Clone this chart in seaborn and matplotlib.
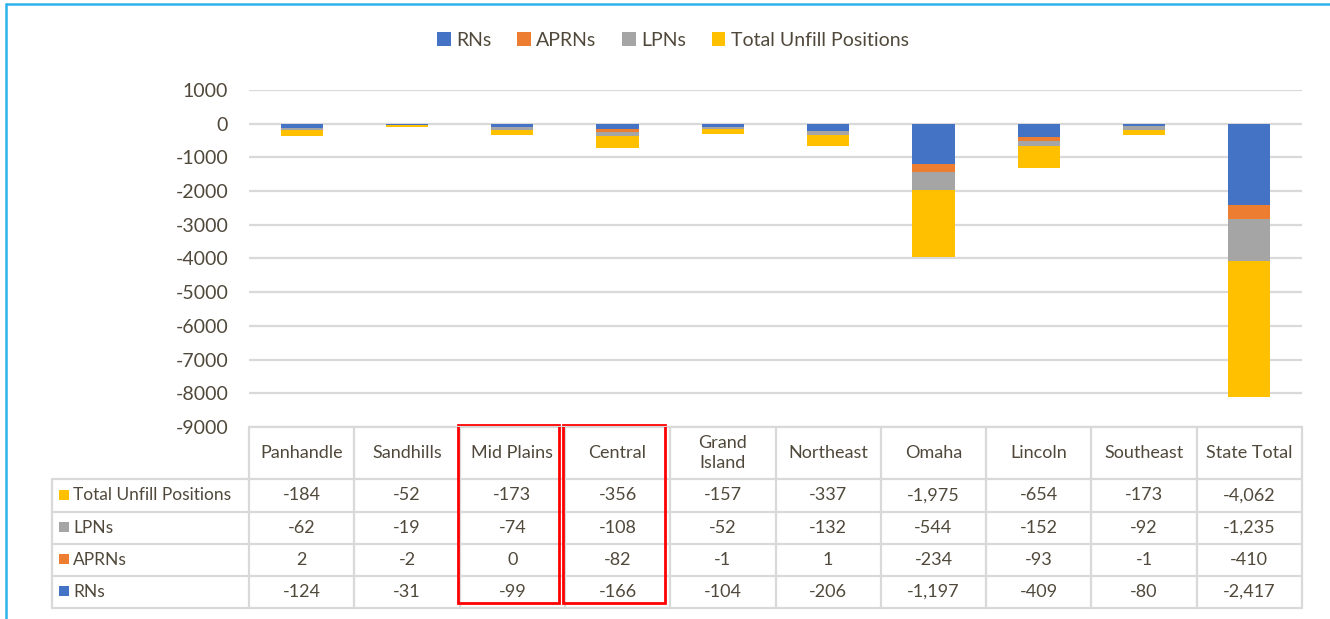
import numpy as np
import matplotlib
matplotlib.use('Agg')
import matplotlib.pyplot as plt
from matplotlib.patches import Patch, Rectangle
import seaborn as sns

# data
regions = ['Panhandle', 'Sandhills', 'Mid Plains', 'Central', 'Grand\nIsland',
           'Northeast', 'Omaha', 'Lincoln', 'Southeast', 'State Total']
rns = [-124, -31, -99, -166, -104, -206, -1197, -409, -80, -2417]
aprns = [2, -2, 0, -82, -1, 1, -234, -93, -1, -410]
lpns = [-62, -19, -74, -108, -52, -132, -544, -152, -92, -1235]
total_unfill = [-184, -52, -173, -356, -157, -337, -1975, -654, -173, -4062]
yticks = [1000, 0, -1000, -2000, -3000, -4000, -5000, -6000, -7000, -8000, -9000]
highlight = ['Mid Plains', 'Central']

series = [('RNs', rns, '#4472C4'),
          ('APRNs', aprns, '#ED7D31'),
          ('LPNs', lpns, '#A5A5A5'),
          ('Total Unfill Positions', total_unfill, '#FFC000')]
table_order = [3, 2, 1, 0]

sns.set_theme(style='white')
plt.rcParams['font.family'] = ['Lato', 'DejaVu Sans']
txt = '#50493B'
grid_c = '#D9D9D9'

W, H = 1330, 619
fig = plt.figure(figsize=(W / 100, H / 100), dpi=100)
fig.patch.set_facecolor('white')

# layout in pixels
pl, pr, pt, pb = 249, 1302, 90, 427
row_edges = [427, 479, 512, 544, 576, 608]
lab_left = 52

# overlay axes for table and frame
ov = fig.add_axes([0, 0, 1, 1])
ov.set_xlim(0, W)
ov.set_ylim(H, 0)
ov.axis('off')

ax = fig.add_axes([pl / W, 1 - pb / H, (pr - pl) / W, (pb - pt) / H])
ax.patch.set_alpha(0)

x = np.arange(len(regions))
pos_base = np.zeros(len(regions))
neg_base = np.zeros(len(regions))
for name, vals, col in series:
    v = np.array(vals, dtype=float)
    base = np.where(v >= 0, pos_base, neg_base)
    ax.bar(x, v, bottom=base, width=0.4, color=col, linewidth=0, zorder=3)
    pos_base += np.where(v >= 0, v, 0)
    neg_base += np.where(v < 0, v, 0)

ax.set_xlim(-0.5, len(regions) - 0.5)
ax.set_ylim(-9000, 1000)
ax.set_yticks(yticks)
ax.set_yticklabels([str(t) for t in yticks], fontsize=14, color=txt)
ax.set_xticks([])
ax.yaxis.grid(True, color=grid_c, linewidth=1.6, zorder=0)
ax.tick_params(axis='y', length=0, pad=15)
for s in ax.spines.values():
    s.set_visible(False)

# legend
handles = [Patch(facecolor=c, edgecolor='none', label=n) for n, _, c in series]
fig.legend(handles=handles, loc='center', bbox_to_anchor=(673 / W, 1 - 40 / H),
           ncol=4, frameon=False, fontsize=14, handlelength=0.7, handleheight=0.7,
           handletextpad=0.3, columnspacing=1.3, labelcolor=txt)

# table
cw = (pr - pl) / len(regions)
lw_t = 1.6
ov.plot([pl, pr], [row_edges[0]] * 2, color=grid_c, lw=lw_t)
for y in row_edges[1:]:
    ov.plot([lab_left, pr], [y, y], color=grid_c, lw=lw_t)
for i in range(len(regions) + 1):
    xx = pl + i * cw
    ov.plot([xx, xx], [row_edges[0], row_edges[-1]], color=grid_c, lw=lw_t)
ov.plot([lab_left, lab_left], [row_edges[1], row_edges[-1]], color=grid_c, lw=lw_t)

# header
for i, r in enumerate(regions):
    ov.text(pl + (i + 0.5) * cw, (row_edges[0] + row_edges[1]) / 2, r,
            ha='center', va='center', fontsize=13, color=txt, linespacing=1.35)

# rows
for j, si in enumerate(table_order):
    name, vals, col = series[si]
    yc = (row_edges[j + 1] + row_edges[j + 2]) / 2
    ov.add_patch(Rectangle((59, yc - 6), 10, 10, facecolor=col, edgecolor='none'))
    ov.text(73, yc, name, ha='left', va='center', fontsize=12.5, color=txt)
    for i, v in enumerate(vals):
        ov.text(pl + (i + 0.5) * cw, yc, f'{v:,}', ha='center', va='center',
                fontsize=13, color=txt)

# red highlight boxes
for r in highlight:
    i = regions.index(r)
    ov.add_patch(Rectangle((pl + i * cw - 1.5, 425), cw - 4, 178, facecolor='none',
                           edgecolor='#FF0000', lw=2.0, zorder=5))

# frame lines
ov.plot([6, W], [4, 4], color='#2DB3EC', lw=1.8)
ov.plot([6, 6], [4, H], color='#2DB3EC', lw=1.8)

fig.savefig('out.png', dpi=100)
